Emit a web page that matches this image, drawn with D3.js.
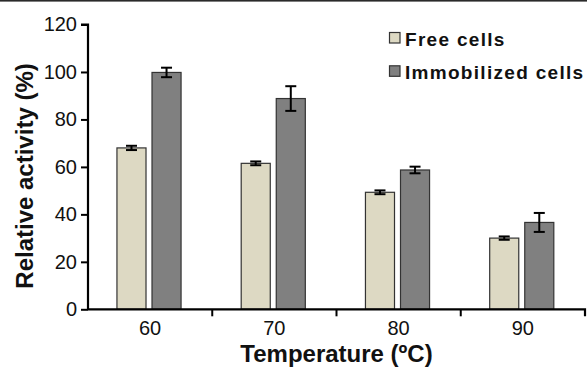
<!DOCTYPE html>
<html>
<head>
<meta charset="utf-8">
<script src="https://cdn.jsdelivr.net/npm/d3@7"></script>
<style>
  html, body { margin: 0; padding: 0; background: #fff; }
  svg { display: block; font-family: "Liberation Sans", Arial, sans-serif; }
</style>
</head>
<body>
<svg id="chart" width="587" height="368"></svg>
<script>
const categories = ["60", "70", "80", "90"];
const seriesNames = ["Free cells", "Immobilized cells"];
const freeCells = [68, 61.5, 49.3, 30];
const freeErr = [0.9, 0.8, 0.8, 0.7];
const immobilizedCells = [99.8, 88.8, 58.7, 36.6];
const immobilizedErr = [2.0, 5.2, 1.4, 4.0];
const yTicks = [0, 20, 40, 60, 80, 100, 120];
const colors = ["#ddd9c3", "#808080"];

(function () {
const svg = d3.select("#chart");
const W = 587, H = 368;
const mLeft = 88, mRight = 585, mTop = 24.5, mBottom = 309.3;

// top border line
svg.append("rect").attr("x", 0).attr("y", 0).attr("width", W).attr("height", 1.6).attr("fill", "#2a2a2a");

const x = d3.scaleBand().domain(categories).range([mLeft, mRight]).paddingInner(0).paddingOuter(0);
const bw = x.bandwidth();
const xs = d3.scaleBand().domain(seriesNames).range([bw * 0.233, bw * 0.749]).paddingInner(0.171).paddingOuter(0);
const y = d3.scaleLinear().domain([0, 120]).range([mBottom, mTop]);

const data = [];
categories.forEach((c, i) => {
  data.push({ cat: c, s: seriesNames[0], v: freeCells[i], e: freeErr[i], color: colors[0] });
  data.push({ cat: c, s: seriesNames[1], v: immobilizedCells[i], e: immobilizedErr[i], color: colors[1] });
});

// bars
svg.append("g").selectAll("rect").data(data).join("rect")
  .attr("x", d => x(d.cat) + xs(d.s))
  .attr("y", d => y(d.v))
  .attr("width", xs.bandwidth())
  .attr("height", d => y(0) - y(d.v))
  .attr("fill", d => d.color)
  .attr("stroke", "#333")
  .attr("stroke-width", 1.2);

// error bars
const eg = svg.append("g").attr("stroke", "#000").attr("stroke-width", 2);
data.forEach(d => {
  const cx = x(d.cat) + xs(d.s) + xs.bandwidth() / 2;
  const capW = 5.5;
  eg.append("line").attr("x1", cx).attr("x2", cx).attr("y1", y(d.v + d.e)).attr("y2", y(d.v - d.e));
  eg.append("line").attr("x1", cx - capW).attr("x2", cx + capW).attr("y1", y(d.v + d.e)).attr("y2", y(d.v + d.e));
  eg.append("line").attr("x1", cx - capW).attr("x2", cx + capW).attr("y1", y(d.v - d.e)).attr("y2", y(d.v - d.e));
});

// y axis
const yAxis = d3.axisLeft(y).tickValues(yTicks).tickSize(7).tickPadding(4).tickFormat(d3.format("d"));
const gy = svg.append("g").attr("transform", `translate(${mLeft},0)`).call(yAxis);
gy.select(".domain").attr("stroke", "#000").attr("stroke-width", 2.2).attr("d", `M-7,${mTop}H0V${mBottom}`);
gy.selectAll(".tick line").attr("stroke", "#000").attr("stroke-width", 2);
gy.selectAll(".tick text").attr("font-size", 20).attr("fill", "#111").attr("font-family", "Liberation Sans, Arial, sans-serif");

// x axis
const xAxis = d3.axisBottom(x).tickSize(0).tickPadding(12);
const gx = svg.append("g").attr("transform", `translate(0,${mBottom})`).call(xAxis);
gx.select(".domain").attr("stroke", "#000").attr("stroke-width", 2.2).attr("d", `M${mLeft},0H${mRight}V7`);
gx.selectAll(".tick text").attr("font-size", 20).attr("fill", "#111").attr("font-family", "Liberation Sans, Arial, sans-serif");
// boundary ticks between categories
const boundaries = categories.slice(1).map(c => x(c));
svg.append("g").selectAll("line").data(boundaries).join("line")
  .attr("x1", d => d).attr("x2", d => d)
  .attr("y1", mBottom).attr("y2", mBottom + 7)
  .attr("stroke", "#000").attr("stroke-width", 2);

// axis titles
svg.append("text")
  .attr("x", (mLeft + mRight) / 2).attr("y", 362)
  .attr("text-anchor", "middle")
  .attr("font-size", 24).attr("font-weight", "bold").attr("fill", "#111")
  .text("Temperature (ºC)");

svg.append("text")
  .attr("transform", `translate(33,${176}) rotate(-90)`)
  .attr("text-anchor", "middle")
  .attr("font-size", 24).attr("font-weight", "bold").attr("fill", "#111")
  .text("Relative activity (%)");

// legend
const lg = svg.append("g");
seriesNames.forEach((s, i) => {
  const yy = 32.5 + i * 33.3;
  lg.append("rect").attr("x", 389.5).attr("y", yy).attr("width", 10.5).attr("height", 10.5)
    .attr("fill", colors[i]).attr("stroke", "#333").attr("stroke-width", 1.2);
  lg.append("text").attr("x", 405).attr("y", yy + 13.5)
    .attr("font-size", 19).attr("font-weight", "bold").attr("fill", "#111")
    .attr("letter-spacing", 1.3)
    .text(s);
});
})();
</script>
</body>
</html>
